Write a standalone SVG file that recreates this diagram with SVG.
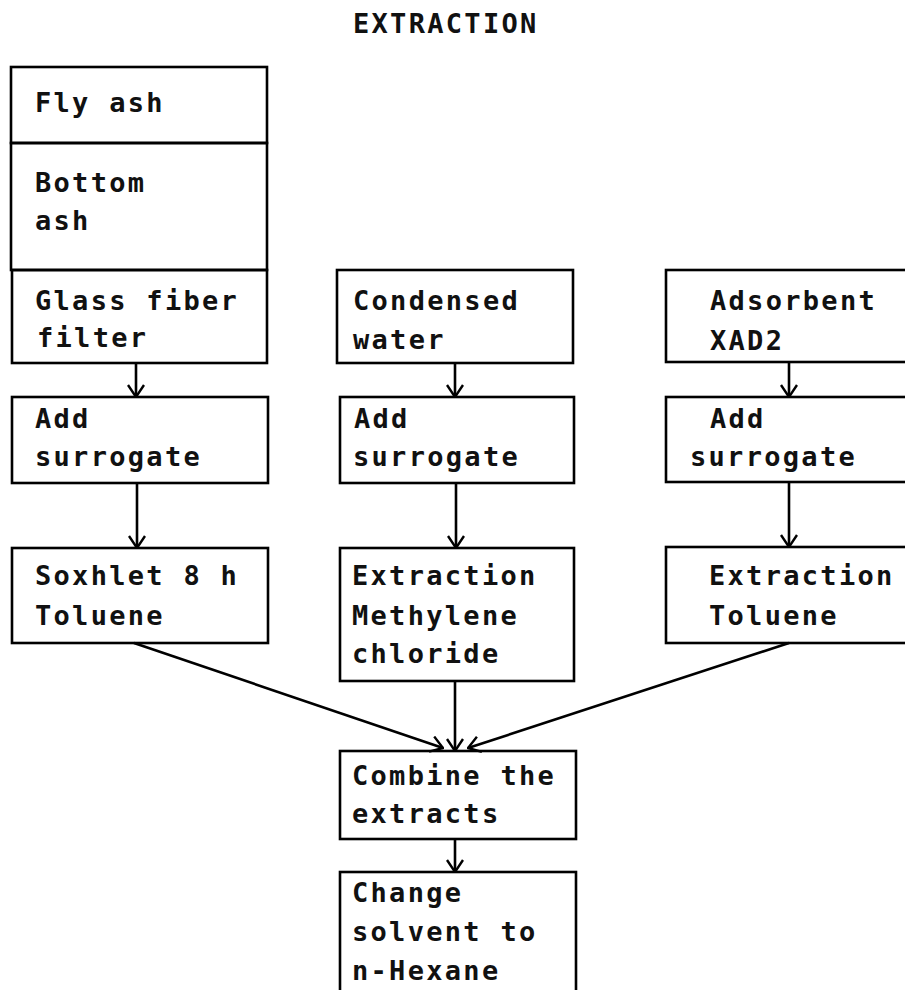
<svg xmlns="http://www.w3.org/2000/svg" width="905" height="990" viewBox="0 0 905 990">
<style>
.box{fill:none;stroke:#000;stroke-width:2.6}
.t{font-family:"DejaVu Sans Mono","Liberation Mono",monospace;font-weight:bold;font-size:27px;letter-spacing:2.3px;fill:#111}
.c{fill:none;stroke:#000;stroke-width:2.6}
</style>
<defs>
<marker id="ah" viewBox="0 0 14 18" refX="13" refY="9" markerWidth="14" markerHeight="18" markerUnits="userSpaceOnUse" orient="auto">
<path d="M1,1 L13,9 L1,17" fill="none" stroke="#000" stroke-width="2.4"/>
</marker>
</defs>
<rect width="905" height="990" fill="#fff"/>
<text class="t" x="353" y="33">EXTRACTION</text>

<g id="fly-ash"><rect class="box" x="11" y="67" width="256" height="76"/><text class="t" x="35" y="112">Fly ash</text></g>
<g id="bottom-ash"><rect class="box" x="11" y="143" width="256" height="127"/><text class="t" x="35" y="192">Bottom</text><text class="t" x="35" y="230">ash</text></g>
<g id="glass-fiber"><rect class="box" x="12" y="270" width="255" height="93"/><text class="t" x="35" y="310">Glass fiber</text><text class="t" x="37" y="347">filter</text></g>
<g id="add-left"><rect class="box" x="12" y="397" width="256" height="86"/><text class="t" x="35" y="428">Add</text><text class="t" x="35" y="466">surrogate</text></g>
<g id="soxhlet"><rect class="box" x="12" y="548" width="256" height="95"/><text class="t" x="35" y="585">Soxhlet 8 h</text><text class="t" x="35" y="625">Toluene</text></g>

<g id="condensed"><rect class="box" x="337" y="270" width="236" height="93"/><text class="t" x="353" y="310">Condensed</text><text class="t" x="353" y="349">water</text></g>
<g id="add-mid"><rect class="box" x="340" y="397" width="234" height="86"/><text class="t" x="354" y="428">Add</text><text class="t" x="353" y="466">surrogate</text></g>
<g id="extraction-mid"><rect class="box" x="340" y="548" width="234" height="133"/><text class="t" x="352" y="585">Extraction</text><text class="t" x="352" y="625">Methylene</text><text class="t" x="352" y="663">chloride</text></g>

<g id="adsorbent"><rect class="box" x="666" y="270" width="245" height="92"/><text class="t" x="710" y="310">Adsorbent</text><text class="t" x="710" y="350">XAD2</text></g>
<g id="add-right"><rect class="box" x="666" y="397" width="245" height="85"/><text class="t" x="710" y="428">Add</text><text class="t" x="690" y="466">surrogate</text></g>
<g id="extraction-right"><rect class="box" x="666" y="547" width="245" height="96"/><text class="t" x="709" y="585">Extraction</text><text class="t" x="709" y="625">Toluene</text></g>

<g id="combine"><rect class="box" x="340" y="751" width="236" height="88"/><text class="t" x="352" y="785">Combine the</text><text class="t" x="352" y="823">extracts</text></g>
<g id="change"><rect class="box" x="340" y="872" width="236" height="130"/><text class="t" x="352" y="902">Change</text><text class="t" x="352" y="941">solvent to</text><text class="t" x="352" y="980">n-Hexane</text></g>

<g id="connectors">
<line class="c" x1="136" y1="363" x2="136" y2="397" marker-end="url(#ah)"/>
<line class="c" x1="455" y1="363" x2="455" y2="397" marker-end="url(#ah)"/>
<line class="c" x1="789" y1="362" x2="789" y2="397" marker-end="url(#ah)"/>
<line class="c" x1="137" y1="483" x2="137" y2="548" marker-end="url(#ah)"/>
<line class="c" x1="456" y1="483" x2="456" y2="548" marker-end="url(#ah)"/>
<line class="c" x1="789" y1="482" x2="789" y2="547" marker-end="url(#ah)"/>
<line class="c" x1="455" y1="681" x2="455" y2="751" marker-end="url(#ah)"/>
<line class="c" x1="134" y1="643" x2="443" y2="748" marker-end="url(#ah)"/>
<line class="c" x1="789" y1="643" x2="468" y2="748" marker-end="url(#ah)"/>
<line class="c" x1="455" y1="839" x2="455" y2="872" marker-end="url(#ah)"/>
</g>
</svg>
